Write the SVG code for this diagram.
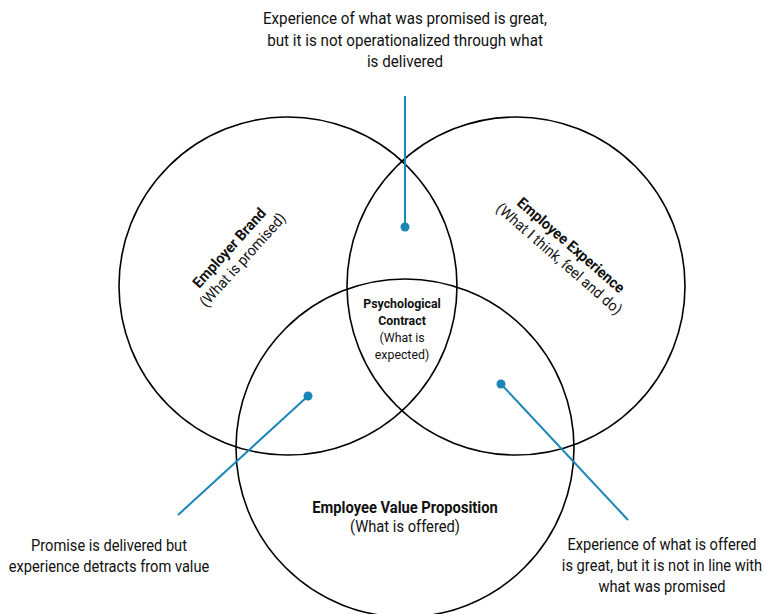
<svg xmlns="http://www.w3.org/2000/svg" width="764" height="614" viewBox="0 0 764 614">
<style>
.c{fill:none;stroke:#000;stroke-width:1.6}
.t{font-family:Roboto,"Liberation Sans",sans-serif;font-size:16px;fill:#111;text-anchor:middle}
.r{font-size:15px}
.b{font-weight:bold}
.s{font-size:13px}
.l{stroke:#1a86b8;stroke-width:2;fill:none}
.d{fill:#1a86b8}
</style>
<rect width="764" height="614" fill="#fff"/>
<g id="employer-brand">
<circle class="c" cx="288" cy="286" r="169"/>
<g transform="translate(236,254) rotate(-48)">
<text class="t r b" x="0" y="-4" transform="scale(0.95,1)">Employer Brand</text>
<text class="t r" x="0" y="14" transform="scale(0.95,1)">(What is promised)</text>
</g>
</g>
<g id="employee-experience">
<circle class="c" cx="516" cy="286" r="169"/>
<g transform="translate(565,252) rotate(41)">
<text class="t r b" x="0" y="-4" transform="scale(0.95,1)">Employee Experience</text>
<text class="t r" x="0" y="14" transform="scale(0.95,1)">(What I think, feel and do)</text>
</g>
</g>
<g id="employee-value-proposition">
<circle class="c" cx="405" cy="448" r="169"/>
<g transform="translate(405,0) scale(0.92,1)">
<text class="t b" x="0" y="513">Employee Value Proposition</text>
<text class="t" x="0" y="532">(What is offered)</text>
</g>
</g>
<g id="psychological-contract">
<g transform="translate(402,0) scale(0.95,1)">
<text class="t b s" x="0" y="308">Psychological</text>
<text class="t b s" x="0" y="325">Contract</text>
<text class="t s" x="0" y="342">(What is</text>
<text class="t s" x="0" y="359">expected)</text>
</g>
</g>
<g id="connectors">
<line class="l" x1="405" y1="96" x2="405" y2="227"/>
<circle class="d" cx="405" cy="227" r="4.5"/>
<line class="l" x1="308" y1="396" x2="178" y2="515"/>
<circle class="d" cx="308" cy="396" r="4.5"/>
<line class="l" x1="501" y1="384" x2="628" y2="520"/>
<circle class="d" cx="501" cy="384" r="4.5"/>
</g>
<g id="label-top">
<g transform="translate(405,0) scale(0.95,1)">
<text class="t" x="0" y="24">Experience of what was promised is great,</text>
<text class="t" x="0" y="46">but it is not operationalized through what</text>
<text class="t" x="0" y="67">is delivered</text>
</g>
</g>
<g id="label-left">
<g transform="translate(109,0) scale(0.915,1)">
<text class="t" x="0" y="551">Promise is delivered but</text>
<text class="t" x="0" y="572">experience detracts from value</text>
</g>
</g>
<g id="label-right">
<g transform="translate(662,0) scale(0.915,1)">
<text class="t" x="0" y="550">Experience of what is offered</text>
<text class="t" x="0" y="571">is great, but it is not in line with</text>
<text class="t" x="0" y="592">what was promised</text>
</g>
</g>
</svg>
